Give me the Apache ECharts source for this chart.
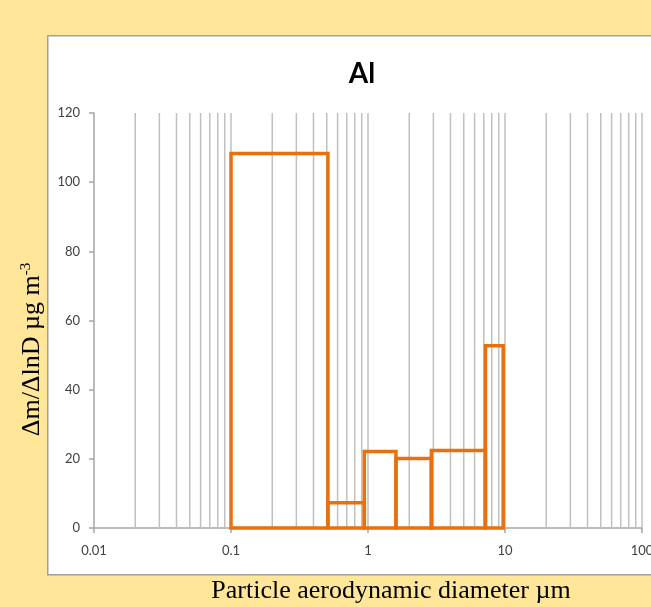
<!DOCTYPE html>
<html>
<head>
<meta charset="utf-8">
<script src="https://cdn.jsdelivr.net/npm/echarts@6/dist/echarts.min.js"></script>
<style>
html,body{margin:0;padding:0;background:#FFE699;overflow:hidden;}
#main{width:651px;height:607px;}
</style>
</head>
<body>
<div id="main"></div>
<script>
// Size-bin edges (µm) and values (Δm/ΔlnD µg m-3)
const binEdges = [0.1, 0.51, 0.94, 1.6, 2.9, 7.2, 9.7];
const binValues = [108.3, 7.3, 22.1, 20.1, 22.4, 52.7];
// Vertical gridline positions (log minor + major)
const gridValues = [0.02,0.03,0.04,0.05,0.06,0.07,0.08,0.09,0.1,
  0.2,0.3,0.4,0.5,0.6,0.7,0.8,0.9,1,
  2,3,4,5,6,7,8,9,10,
  20,30,40,50,60,70,80,90,100];
const xTickLabels = ['0.01','0.1','1','10','100'];
const yTicks = [0,20,40,60,80,100,120];

const binData = binValues.map((v,i)=>[binEdges[i], binEdges[i+1], v]);
const gridData = gridValues.map(v=>[v]);

const chart = echarts.init(document.getElementById('main'));
const labelFont = "Lato,'Open Sans',sans-serif";
const serif = "'Liberation Serif','Times New Roman',serif";
chart.setOption({
  backgroundColor: '#FFE699',
  animation: false,
  graphic: [{
    type: 'rect', left: 47, top: 35, z: -10,
    shape: {width: 640, height: 539},
    style: {fill: '#ffffff', stroke: '#A0A0A0', lineWidth: 1.5}
  }],
  title: {
    text: 'Al', left: 357, top: 55, textAlign: 'center',
    textStyle: {fontFamily: labelFont, fontWeight: 'bold', fontSize: 28, color: '#000'}
  },
  grid: {left: 94, right: 9, top: 113, bottom: 79, containLabel: false, outerBoundsMode: 'none'},
  xAxis: {
    type: 'log', logBase: 10, min: 0.01, max: 100,
    name: 'Particle aerodynamic diameter µm',
    nameLocation: 'middle', nameGap: 50,
    nameTextStyle: {fontFamily: serif, fontSize: 26, color: '#000', padding: [0,0,0,46]},
    axisLine: {show: true, lineStyle: {color: '#A6A6A6', width: 1.5}},
    axisTick: {show: true, length: 5, lineStyle: {color: '#A6A6A6', width: 1.5}},
    axisLabel: {
      margin: 16, color: '#404040', fontSize: 13, fontFamily: labelFont,
      formatter: function(v){
        const e = Math.round(Math.log10(v));
        return xTickLabels[e + 2];
      }
    },
    splitLine: {show: false}
  },
  yAxis: {
    type: 'value', min: 0, max: 120, interval: 20,
    name: '{a|Δm/ΔlnD µg m}{s|-3}',
    nameLocation: 'middle', nameGap: 48, nameRotate: 90,
    nameTextStyle: {
      padding: [0,58,0,0],
      rich: {
        a: {fontFamily: serif, fontSize: 26, color: '#000'},
        s: {fontFamily: serif, fontSize: 15, color: '#000', verticalAlign: 'top', padding: [0,0,12,0]}
      }
    },
    axisLine: {show: true, lineStyle: {color: '#A6A6A6', width: 1.5}},
    axisTick: {show: true, length: 5, lineStyle: {color: '#A6A6A6', width: 1.5}},
    axisLabel: {margin: 14, color: '#404040', fontSize: 13, fontFamily: labelFont,
      formatter: function(v){ return yTicks.indexOf(v) >= 0 ? String(v) : ''; }},
    splitLine: {show: false}
  },
  series: [
    {
      type: 'custom', z: 1, silent: true,
      data: gridData,
      encode: {x: 0},
      renderItem: function(params, api){
        const v = api.value(0);
        const a = api.coord([v, 0]);
        const b = api.coord([v, 120]);
        return {type: 'line', shape: {x1: a[0], y1: a[1], x2: b[0], y2: b[1]},
          style: {stroke: '#C0C0C0', lineWidth: 1.5}};
      }
    },
    {
      type: 'custom', z: 5, silent: true,
      data: binData,
      encode: {x: [0,1], y: 2},
      renderItem: function(params, api){
        const p0 = api.coord([api.value(0), api.value(2)]);
        const p1 = api.coord([api.value(1), 0]);
        return {type: 'rect',
          shape: {x: p0[0], y: p0[1], width: p1[0]-p0[0], height: p1[1]-p0[1]},
          style: {fill: 'none', stroke: '#E8700E', lineWidth: 3.5, lineJoin: 'miter'}};
      }
    }
  ]
});
</script>
</body>
</html>
